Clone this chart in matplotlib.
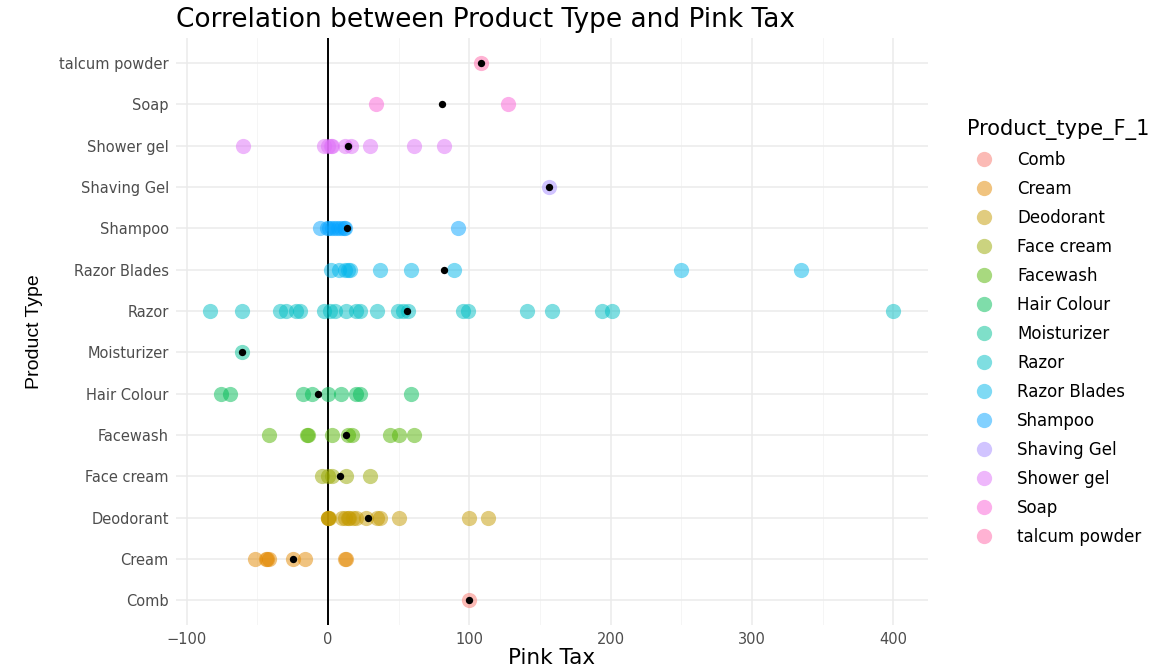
import matplotlib.pyplot as plt
from matplotlib.lines import Line2D
import numpy as np

plt.rcParams['font.family'] = ['DejaVu Sans']

# Product categories (bottom to top) and ggplot hue colours
categories = ['Comb', 'Cream', 'Deodorant', 'Face cream', 'Facewash', 'Hair Colour',
              'Moisturizer', 'Razor', 'Razor Blades', 'Shampoo', 'Shaving Gel',
              'Shower gel', 'Soap', 'talcum powder']
colors = ['#F8766D', '#E38900', '#C49A00', '#99A800', '#53B400', '#00BC56', '#00C094',
          '#00BFC4', '#00B6EB', '#06A4FF', '#A58AFF', '#DF70F8', '#FB61D7', '#FF66A8']

# Pink tax values, per product type
comb = [100]
cream = [-52, -44, -43, -42, -25, -16, 12, 13]
deodorant = [0, 0, 0, 0.7, 10, 12, 14, 15, 18, 20, 27, 35, 37, 50, 99.5, 113.5]
face_cream = [-4, 0, 2.6, 13, 30]
facewash = [-42, -15, -14, 2.6, 14, 17, 44, 50, 61]
hair_colour = [-76, -69, -18, -11.5, 0, 9, 20, 22.6, 58.5]
moisturizer = [-61]
razor = [-83.5, -61, -34, -30, -23, -20, -3, 1.4, 5, 13, 20, 22.6, 34.4, 49.7, 53,
         56.6, 95.7, 99, 140.5, 158.6, 193.5, 200.6, 400]
razor_blades = [2, 8, 12, 14, 15.6, 36.8, 59, 89, 249.6, 334.5]
shampoo = [-6, -1, 1, 3, 5, 7, 9, 11, 12, 92]
shaving_gel = [156]
shower_gel = [-60, -3, 0, 2, 3, 12, 16, 30, 61, 82]
soap = [34, 127]
talcum_powder = [108]

values = [comb, cream, deodorant, face_cream, facewash, hair_colour, moisturizer,
          razor, razor_blades, shampoo, shaving_gel, shower_gel, soap, talcum_powder]

fig = plt.figure(figsize=(11.64, 6.70), dpi=100)
ax = fig.add_axes([0.151, 0.067, 0.646, 0.876])

for i, (vals, col) in enumerate(zip(values, colors)):
    ax.scatter(vals, [i] * len(vals), s=120, color=col, alpha=0.5, linewidths=0, zorder=3)
    ax.scatter([np.mean(vals)], [i], s=28, color='black', linewidths=0, zorder=4)

ax.axvline(0, color='black', linewidth=1.4, zorder=2)

# theme_minimal look
ax.set_xlim(-107.7, 424.2)
ax.set_ylim(-0.6, len(categories) - 0.4)
ax.set_xticks([-100, 0, 100, 200, 300, 400])
ax.set_xticks([-50, 50, 150, 250, 350], minor=True)
ax.set_yticks(range(len(categories)))
ax.set_yticklabels(categories)
ax.grid(True, which='major', color='#EBEBEB', linewidth=1.1, zorder=0)
ax.grid(True, which='minor', axis='x', color='#F4F4F4', linewidth=0.6, zorder=0)
ax.set_axisbelow(True)
for sp in ax.spines.values():
    sp.set_visible(False)
ax.tick_params(which='both', length=0, labelsize=10.5, labelcolor='#4D4D4D', pad=5)

ax.set_xlabel('Pink Tax', fontsize=15.5, labelpad=1)
ax.set_ylabel('Product Type', fontsize=14, labelpad=12, family=['Liberation Sans'])
ax.set_title('Correlation between Product Type and Pink Tax', fontsize=19,
             loc='left', pad=8, x=0.0)

handles = [Line2D([], [], marker='o', linestyle='', markersize=11, color=c,
                  alpha=0.5, markeredgewidth=0) for c in colors]
fig.legend(handles, categories, title='Product_type_F_1', loc='upper left',
           bbox_to_anchor=(0.818, 0.845), frameon=False, fontsize=12,
           title_fontsize=15, labelspacing=0.66, handletextpad=1.0,
           alignment='left')

fig.savefig('out.png', dpi=100)
